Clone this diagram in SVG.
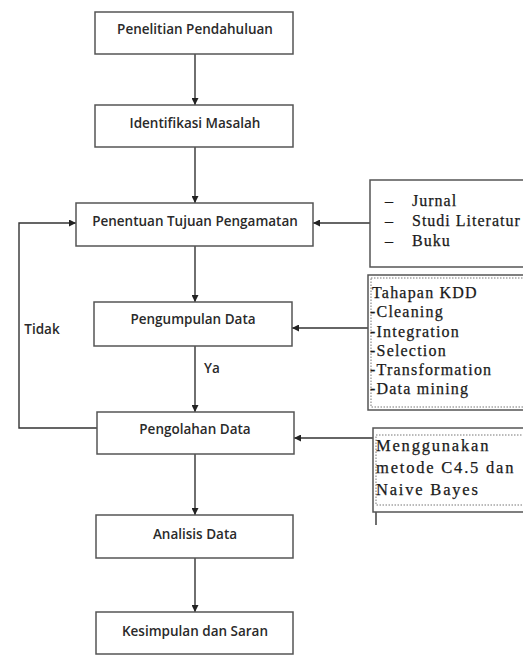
<svg xmlns="http://www.w3.org/2000/svg" width="523" height="655" viewBox="0 0 523 655">
<style>
.box{fill:#fff;stroke:#555;stroke-width:1.5}
.t{font-family:"Open Sans","Liberation Sans",Arial,sans-serif;font-size:13.5px;font-weight:600;fill:#2a2a2a;text-anchor:middle}
.s{font-family:"Liberation Serif","Times New Roman",serif;font-size:16px;fill:#1a1a1a;stroke:#1a1a1a;stroke-width:0.25}
.a{letter-spacing:1px}
.b{letter-spacing:1.2px}
.c{font-size:16.5px;letter-spacing:1.8px}
.ln{fill:none;stroke:#333;stroke-width:1.4}
.dot{fill:none;stroke:#777;stroke-width:1;stroke-dasharray:1.5 1.5}
</style>
<defs>
<marker id="ah" viewBox="0 0 10 10" refX="10" refY="5" markerWidth="7" markerHeight="7" orient="auto" markerUnits="userSpaceOnUse">
<path d="M0,0 L10,5 L0,10 z" fill="#222"/>
</marker>
</defs>
<rect width="523" height="655" fill="#fff"/>
<g id="connectors">
<line class="ln" x1="195" y1="54" x2="195" y2="105" marker-end="url(#ah)"/>
<line class="ln" x1="195" y1="147" x2="195" y2="203" marker-end="url(#ah)"/>
<line class="ln" x1="195" y1="246" x2="195" y2="302" marker-end="url(#ah)"/>
<line class="ln" x1="195" y1="346" x2="195" y2="412" marker-end="url(#ah)"/>
<line class="ln" x1="195" y1="454" x2="195" y2="515" marker-end="url(#ah)"/>
<line class="ln" x1="195" y1="558" x2="195" y2="612" marker-end="url(#ah)"/>
<polyline class="ln" points="97,428 19,428 19,223 76,223" marker-end="url(#ah)"/>
<line class="ln" x1="370" y1="223" x2="313" y2="223" marker-end="url(#ah)"/>
<line class="ln" x1="368" y1="328" x2="292" y2="328" marker-end="url(#ah)"/>
<line class="ln" x1="373" y1="438" x2="294" y2="438" marker-end="url(#ah)"/>
<line class="ln" x1="376" y1="512" x2="376" y2="525" stroke-width="1"/>
<text x="42" y="334" class="t">Tidak</text>
<text x="212" y="373" class="t">Ya</text>
</g>
<g id="n1"><rect class="box" x="95" y="12" width="198" height="42"/><text x="195" y="34" class="t">Penelitian Pendahuluan</text></g>
<g id="n2"><rect class="box" x="95" y="105" width="198" height="42"/><text x="195" y="128" class="t">Identifikasi Masalah</text></g>
<g id="n3"><rect class="box" x="76" y="203" width="237" height="43"/><text x="195" y="226" class="t">Penentuan Tujuan Pengamatan</text></g>
<g id="n4"><rect class="box" x="94" y="302" width="198" height="44"/><text x="193" y="324" class="t">Pengumpulan Data</text></g>
<g id="n5"><rect class="box" x="97" y="412" width="197" height="42"/><text x="195" y="434" class="t">Pengolahan Data</text></g>
<g id="n6"><rect class="box" x="96" y="515" width="197" height="43"/><text x="195" y="539" class="t">Analisis Data</text></g>
<g id="n7"><rect class="box" x="96" y="612" width="197" height="42"/><text x="195" y="636" class="t">Kesimpulan dan Saran</text></g>
<g id="sA">
<rect class="box" x="370" y="180" width="165" height="87"/>
<text x="385" y="206" class="s">–</text><text x="412" y="206" class="s a">Jurnal</text>
<text x="385" y="226" class="s">–</text><text x="412" y="226" class="s a">Studi Literatur</text>
<text x="385" y="246" class="s">–</text><text x="412" y="246" class="s a">Buku</text>
</g>
<g id="sB">
<rect class="box" x="368" y="275" width="165" height="135"/>
<rect class="dot" x="371" y="278" width="160" height="129"/>
<text x="372" y="298" class="s b">Tahapan KDD</text>
<text x="370" y="317" class="s b">-Cleaning</text>
<text x="370" y="337" class="s b">-Integration</text>
<text x="370" y="356" class="s b">-Selection</text>
<text x="370" y="375" class="s b">-Transformation</text>
<text x="370" y="394" class="s b">-Data mining</text>
</g>
<g id="sC">
<rect class="box" x="373" y="428" width="160" height="84"/>
<rect class="dot" x="376" y="435" width="155" height="70"/>
<text x="376" y="451" class="s c">Menggunakan</text>
<text x="376" y="473" class="s c">metode C4.5 dan</text>
<text x="376" y="495" class="s c">Naive Bayes</text>
</g>
</svg>
